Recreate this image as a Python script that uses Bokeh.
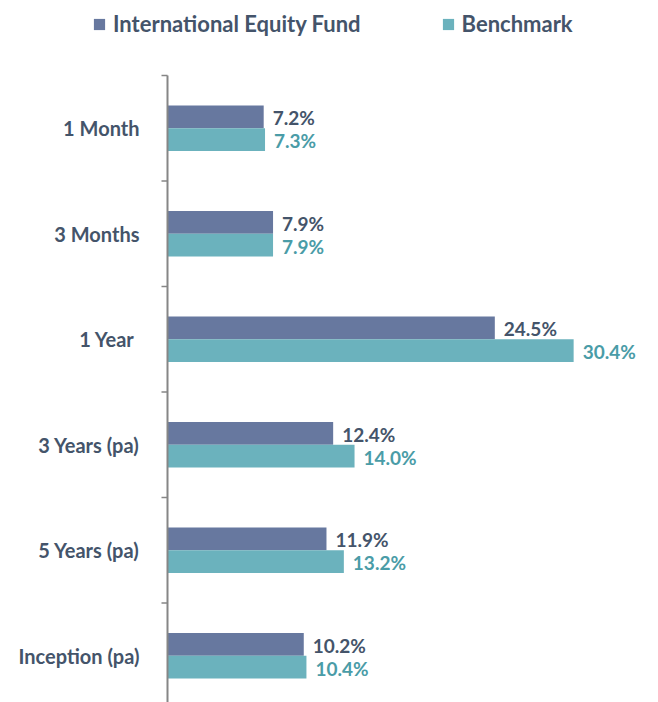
import numpy as np
from bokeh.plotting import figure
from bokeh.models import Range1d, ColumnDataSource, Legend, LegendItem
from bokeh.embed import file_html
from bokeh.resources import INLINE
from bokeh.core.properties import value

# ---- data ----
categories = ["1 Month", "3 Months", "1 Year ", "3 Years (pa)", "5 Years (pa)", "Inception (pa)"]
fund = [7.2, 7.9, 24.5, 12.4, 11.9, 10.2]
bench = [7.3, 7.9, 30.4, 14.0, 13.2, 10.4]
series_names = ["International Equity Fund", "Benchmark"]

# ---- styling / layout ----
FONT = "Lato"
FUND_COLOR = "#67789F"
BENCH_COLOR = "#6BB2BD"
DARK_TEXT = "#44546A"
BENCH_TEXT = "#4A9CA7"
AXIS_COLOR = "#868686"

W, H = 658, 702
TOP, LEFT = 75, 167          # pixel position of the category axis origin
band_px = 105.5               # height of one category band in pixels
px_per_unit = 13.36           # pixels per 1 percentage point
bar_h = 0.216

idx = np.arange(len(categories))
centers = idx + 0.5
src = ColumnDataSource(dict(
    y_fund=centers - bar_h / 2,
    y_bench=centers + bar_h / 2,
    fund=fund,
    bench=bench,
    fund_lbl=[f"{v:.1f}%" for v in fund],
    bench_lbl=[f"{v:.1f}%" for v in bench],
))
cat_src = ColumnDataSource(dict(y=centers, name=categories, x=np.zeros(len(categories))))
bounds = np.arange(len(categories) + 1)
tick_len = 6 / px_per_unit

y_bottom = (H - TOP) / band_px
y_top = -TOP / band_px
p = figure(width=W, height=H, output_backend="svg", toolbar_location=None,
           x_range=Range1d(-LEFT / px_per_unit, (W - LEFT) / px_per_unit),
           y_range=Range1d(y_bottom, y_top),
           x_axis_location=None, y_axis_location=None,
           min_border_left=0, min_border_top=0,
           min_border_bottom=0, min_border_right=0)
p.outline_line_color = None
p.xgrid.visible = False
p.ygrid.visible = False

r_fund = p.hbar(y="y_fund", right="fund", left=0, height=bar_h, source=src,
                fill_color=FUND_COLOR, line_color=None)
r_bench = p.hbar(y="y_bench", right="bench", left=0, height=bar_h, source=src,
                 fill_color=BENCH_COLOR, line_color=None)

# category axis: line, boundary ticks, labels
p.segment(x0=[0], y0=[0], x1=[0], y1=[y_bottom], line_color=AXIS_COLOR, line_width=2)
p.segment(x0=-tick_len, y0=bounds, x1=0, y1=bounds, line_color=AXIS_COLOR, line_width=1.5)
p.text(x="x", y="y", text="name", source=cat_src, x_offset=-28,
       text_font=value(FONT), text_font_style="bold", text_font_size="20px",
       text_color=DARK_TEXT, text_baseline="middle", text_align="right")

# value labels
p.text(x="fund", y="y_fund", text="fund_lbl", source=src, x_offset=9, y_offset=1,
       text_font=value(FONT), text_font_style="bold", text_font_size="19px",
       text_color=DARK_TEXT, text_baseline="middle", text_align="left")
p.text(x="bench", y="y_bench", text="bench_lbl", source=src, x_offset=9, y_offset=1,
       text_font=value(FONT), text_font_style="bold", text_font_size="19px",
       text_color=BENCH_TEXT, text_baseline="middle", text_align="left")

legend = Legend(items=[LegendItem(label=series_names[0], renderers=[r_fund]),
                       LegendItem(label=series_names[1], renderers=[r_bench])],
                orientation="horizontal", location=(92, H - 37),
                glyph_width=14, glyph_height=14, label_standoff=7, spacing=80,
                label_text_font=FONT, label_text_font_style="bold",
                label_text_font_size="22px", label_text_color=DARK_TEXT,
                border_line_color=None, background_fill_alpha=0,
                padding=0, margin=0)
p.add_layout(legend)

open("out.html", "w").write(file_html(p, INLINE))
